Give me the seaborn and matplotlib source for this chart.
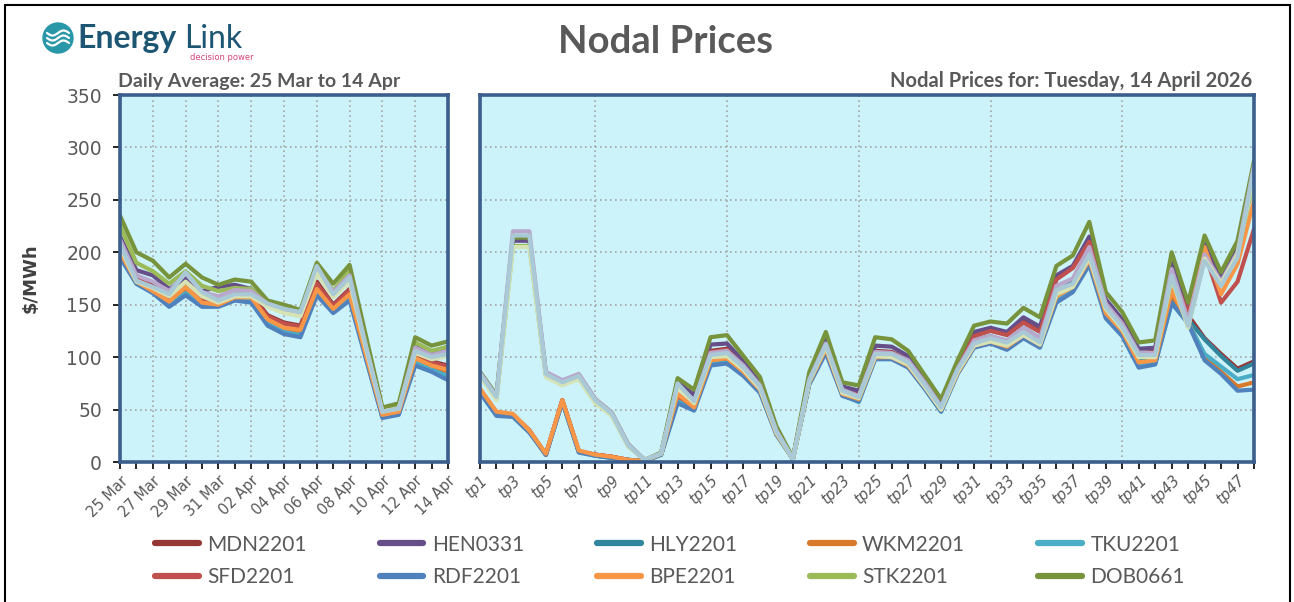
import numpy as np
import pandas as pd
import matplotlib
matplotlib.use("Agg")
import matplotlib.pyplot as plt
import seaborn as sns
from matplotlib.patches import Circle, Rectangle
from matplotlib.lines import Line2D

# ---------------- data ----------------
days = ["25 Mar", "26 Mar", "27 Mar", "28 Mar", "29 Mar", "30 Mar", "31 Mar",
        "01 Apr", "02 Apr", "03 Apr", "04 Apr", "05 Apr", "06 Apr", "07 Apr",
        "08 Apr", "09 Apr", "10 Apr", "11 Apr", "12 Apr", "13 Apr", "14 Apr"]
periods = ["tp%d" % i for i in range(1, 49)]

nodes = ["MDN2201", "HEN0331", "HLY2201", "WKM2201", "TKU2201",
         "SFD2201", "RDF2201", "BPE2201", "STK2201", "DOB0661",
         "Series11", "Series12", "Series13"]
legend_nodes = nodes[:10]

colors = ["#953735", "#664E88", "#31859C", "#D97A2B", "#4BACC6",
          "#C0504D", "#4F81BD", "#F79646", "#9BBB59", "#77933C",
          "#B9A7CC", "#D5E3B5", "#A8C9D5"]

# daily averages, 25 Mar .. 14 Apr
daily_MDN = [205, 178, 168, 158, 170, 156, 152, 160, 160, 140, 133, 130, 172, 150, 165, 105, 46, 49, 104, 96, 92]
daily_HEN = [215, 183, 178, 165, 175, 163, 167, 169, 165, 150, 146, 141, 182, 162, 178, 113, 49, 53, 112, 104, 110]
daily_HLY = [198, 171, 163, 151, 162, 150, 150, 155, 155, 133, 125, 122, 162, 144, 158, 100, 44, 47, 96, 89, 84]
daily_WKM = [200, 171, 162, 152, 165, 151, 150, 156, 156, 135, 127, 124, 164, 145, 159, 101, 45, 48, 97, 90, 86]
daily_TKU = [197, 170, 162, 150, 161, 150, 149, 155, 154, 132, 124, 121, 161, 143, 157, 99, 43, 46, 95, 88, 82]
daily_SFD = [203, 176, 166, 156, 168, 155, 151, 159, 159, 139, 132, 129, 170, 149, 164, 104, 46, 49, 103, 95, 91]
daily_RDF = [195, 170, 161, 148, 159, 148, 148, 154, 152, 130, 122, 119, 159, 142, 154, 98, 42, 45, 92, 86, 78]
daily_BPE = [200, 172, 163, 153, 167, 152, 150, 157, 157, 136, 128, 126, 165, 146, 160, 102, 45, 48, 99, 92, 88]
daily_STK = [225, 190, 182, 170, 182, 168, 163, 166, 165, 152, 147, 141, 186, 163, 183, 116, 50, 54, 114, 106, 110]
daily_DOB = [235, 200, 192, 176, 189, 176, 169, 174, 172, 154, 150, 145, 190, 170, 188, 120, 52, 56, 119, 111, 115]
daily_S11 = [212, 178, 172, 163, 180, 162, 158, 164, 163, 151, 146, 142, 186, 162, 178, 110, 48, 51, 109, 102, 106]
daily_S12 = [205, 172, 166, 158, 172, 158, 152, 158, 158, 148, 142, 139, 180, 157, 172, 108, 48, 51, 104, 98, 101]
daily_S13 = [208, 173, 167, 160, 181, 162, 154, 160, 160, 151, 146, 143, 187, 160, 176, 110, 48, 51, 106, 100, 103]

# trading periods for 14 April 2026
tp_MDN = [69, 47, 45, 30, 7, 59, 10, 7, 5, 2, 1, 8,
          63, 52, 106, 108, 92, 73, 29, 3, 79, 113, 69, 64,
          106, 105, 97, 76, 54, 90, 121, 126, 122, 134, 125, 175,
          186, 212, 152, 134, 104, 105, 180, 140, 118, 103, 89, 96]
tp_HEN = [85, 63, 211, 211, 84, 76, 82, 59, 46, 16, 2, 8,
          76, 64, 112, 113, 96, 77, 31, 3, 82, 118, 72, 68,
          111, 110, 101, 79, 56, 93, 124, 128, 124, 138, 129, 178,
          187, 215, 155, 136, 108, 109, 190, 143, 208, 175, 205, 284]
tp_HLY = [68, 46, 45, 29, 7, 58, 10, 6, 4, 2, 1, 7,
          60, 51, 95, 97, 85, 68, 27, 3, 76, 108, 66, 60,
          103, 102, 94, 73, 51, 88, 116, 120, 115, 128, 118, 162,
          172, 200, 145, 128, 96, 98, 158, 136, 117, 101, 87, 94]
tp_WKM = [69, 47, 45, 30, 7, 58, 10, 7, 5, 2, 1, 7,
          62, 51, 96, 98, 85, 68, 27, 3, 76, 107, 65, 60,
          101, 100, 92, 72, 50, 86, 112, 116, 111, 122, 112, 158,
          167, 193, 141, 124, 93, 96, 160, 134, 101, 86, 72, 76]
tp_TKU = [68, 46, 44, 29, 7, 58, 10, 6, 4, 2, 1, 7,
          58, 50, 93, 95, 83, 67, 26, 3, 75, 105, 64, 57,
          99, 99, 91, 70, 48, 84, 110, 114, 108, 119, 110, 154,
          164, 189, 138, 122, 91, 94, 151, 133, 103, 91, 79, 83]
tp_SFD = [69, 47, 45, 30, 7, 59, 10, 7, 5, 2, 1, 8,
          64, 52, 105, 107, 91, 72, 28, 3, 78, 112, 68, 63,
          105, 104, 96, 75, 53, 89, 120, 125, 121, 133, 124, 174,
          185, 210, 150, 132, 103, 104, 178, 142, 200, 152, 172, 222]
tp_RDF = [66, 44, 43, 28, 7, 57, 9, 6, 4, 2, 1, 7,
          56, 49, 92, 94, 82, 66, 26, 3, 74, 104, 63, 58,
          98, 98, 90, 70, 48, 84, 109, 113, 107, 118, 109, 152,
          162, 188, 137, 120, 90, 93, 152, 132, 97, 84, 68, 69]
tp_BPE = [70, 48, 46, 30, 8, 59, 11, 7, 5, 2, 1, 8,
          65, 52, 97, 99, 86, 69, 27, 3, 76, 108, 65, 60,
          100, 100, 92, 72, 50, 85, 111, 115, 110, 121, 112, 158,
          167, 193, 142, 125, 95, 97, 164, 133, 205, 160, 189, 249]
tp_STK = [83, 60, 206, 206, 82, 74, 80, 57, 45, 15, 2, 8,
          73, 57, 100, 102, 89, 71, 29, 3, 77, 111, 67, 61,
          102, 101, 94, 73, 51, 87, 112, 116, 112, 122, 113, 160,
          168, 196, 146, 127, 100, 101, 175, 129, 195, 170, 200, 270]
tp_DOB = [86, 64, 214, 214, 85, 77, 83, 60, 47, 17, 2, 9,
          80, 69, 119, 121, 101, 81, 34, 4, 86, 124, 76, 73,
          119, 117, 106, 83, 60, 97, 130, 134, 132, 147, 138, 187,
          197, 229, 162, 143, 114, 116, 200, 152, 216, 181, 211, 287]
tp_S11 = [85, 63, 220, 220, 86, 78, 84, 60, 47, 17, 2, 8,
          74, 58, 104, 106, 92, 73, 30, 3, 79, 113, 69, 63,
          105, 104, 97, 76, 53, 89, 116, 120, 116, 128, 118, 168,
          175, 205, 151, 132, 104, 104, 184, 135, 198, 172, 200, 283]
tp_S12 = [82, 59, 205, 205, 81, 73, 79, 56, 44, 15, 2, 8,
          72, 56, 100, 101, 88, 70, 28, 3, 77, 110, 66, 61,
          101, 100, 93, 72, 50, 86, 111, 115, 111, 121, 112, 160,
          167, 195, 146, 127, 100, 100, 176, 128, 194, 170, 198, 275]
tp_S13 = [84, 62, 216, 216, 84, 76, 82, 59, 46, 16, 2, 8,
          75, 58, 102, 104, 90, 72, 29, 3, 78, 112, 68, 62,
          103, 103, 95, 74, 52, 88, 113, 118, 114, 124, 114, 164,
          170, 198, 148, 129, 102, 102, 178, 130, 192, 168, 195, 281]

y_ticks = [0, 50, 100, 150, 200, 250, 300, 350]

daily_series = [daily_MDN, daily_HEN, daily_HLY, daily_WKM, daily_TKU, daily_SFD,
                daily_RDF, daily_BPE, daily_STK, daily_DOB, daily_S11, daily_S12, daily_S13]
tp_series = [tp_MDN, tp_HEN, tp_HLY, tp_WKM, tp_TKU, tp_SFD,
             tp_RDF, tp_BPE, tp_STK, tp_DOB, tp_S11, tp_S12, tp_S13]

daily_df = pd.DataFrame([
    {"node": n, "x": i, "price": v}
    for n, vals in zip(nodes, daily_series) for i, v in enumerate(vals)])
tp_df = pd.DataFrame([
    {"node": n, "x": i + 1, "price": v}
    for n, vals in zip(nodes, tp_series) for i, v in enumerate(vals)])
palette = dict(zip(nodes, colors))

# ---------------- style ----------------
sns.set_theme(style="white")
plt.rcParams["font.family"] = ["DejaVu Sans"]
GRAY = "#595959"
FRAME = "#3B5E8C"
FACE = "#CCF2FA"
NARROW = ["Lato", "DejaVu Sans"]

W, H = 1294, 602
fig = plt.figure(figsize=(W / 100, H / 100), dpi=100)
fig.patch.set_facecolor("white")


def fx(px):
    return px / W


def fy(py):
    return 1 - py / H


ax1 = fig.add_axes([fx(120), fy(462), fx(448) - fx(120), fy(95) - fy(462)])
ax2 = fig.add_axes([fx(480), fy(462), fx(1254) - fx(480), fy(95) - fy(462)])

line_kw = dict(linewidth=3.0, solid_joinstyle="round", solid_capstyle="round")
sns.lineplot(data=daily_df, x="x", y="price", hue="node", hue_order=nodes,
             palette=palette, ax=ax1, legend=False, sort=False, **line_kw)
sns.lineplot(data=tp_df, x="x", y="price", hue="node", hue_order=nodes,
             palette=palette, ax=ax2, legend=False, sort=False, **line_kw)

grid_kw = dict(color="#A6A6A6", linewidth=1.2, linestyle=(0, (1, 2)), zorder=0.5)
for ax in (ax1, ax2):
    ax.set_facecolor(FACE)
    ax.set_ylim(0, 350)
    ax.set_xlabel("")
    ax.set_ylabel("")
    for s in ax.spines.values():
        s.set_color(FRAME)
        s.set_linewidth(2.6)
        s.set_zorder(5)
    for yv in y_ticks[1:-1]:
        ax.axhline(yv, **grid_kw)

# left panel
ax1.set_xlim(0, len(days) - 1)
ax1.set_xticks(range(len(days)))
ax1.set_xticklabels([d if i % 2 == 0 else "" for i, d in enumerate(days)],
                    rotation=45, ha="right", rotation_mode="anchor",
                    fontsize=10.5, color=GRAY)
for i in range(2, len(days) - 1, 2):
    ax1.axvline(i, **grid_kw)
ax1.axvline(0, color="#C0504D", linewidth=1.0, linestyle=(0, (1, 2)), zorder=1)
ax1.set_yticks(y_ticks)
ax1.set_yticklabels([str(v) for v in y_ticks], fontsize=13.5, color=GRAY)
ax1.tick_params(axis="both", which="both", direction="out", length=5, width=1.2,
                color="black", left=True, bottom=True, pad=3)
ax1.tick_params(axis="y", pad=8)

# right panel
ax2.set_xlim(1, len(periods))
ax2.set_xticks(range(1, len(periods) + 1))
ax2.set_xticklabels([p if i % 2 == 0 else "" for i, p in enumerate(periods)],
                    rotation=45, ha="right", rotation_mode="anchor",
                    fontsize=10.5, color=GRAY, style="italic")
for t in (8, 16, 24, 32, 40):
    ax2.axvline(t, **grid_kw)
ax2.set_yticks(y_ticks)
ax2.set_yticklabels([])
ax2.tick_params(axis="y", left=False, length=0)
ax2.tick_params(axis="x", direction="out", length=5, width=1.2, color="black",
                bottom=True, pad=3)

# ---------------- texts ----------------
fig.text(fx(666), fy(42), "Nodal Prices", ha="center", va="center", fontsize=27.5,
         weight="bold", color=GRAY, family=NARROW)
fig.text(fx(118), fy(81), "Daily Average: 25 Mar to 14 Apr", ha="left", va="center",
         fontsize=14, weight="bold", color=GRAY, family=NARROW)
fig.text(fx(1252), fy(81), "Nodal Prices for: Tuesday, 14 April 2026", ha="right",
         va="center", fontsize=14.5, weight="bold", color=GRAY, family=NARROW)
fig.text(fx(31), fy(278), r"\$/MWh", rotation=90, ha="center", va="center",
         fontsize=13, weight="bold", color="#404040")

# legend (row-wise order like the original)
order = [0, 5, 1, 6, 2, 7, 3, 8, 4, 9]
handles = [Line2D([0], [0], color=colors[k], linewidth=4.5) for k in order]
labels = [legend_nodes[k] for k in order]
fig.legend(handles, labels, ncol=5, loc="center", bbox_to_anchor=(fx(670), fy(561)),
           frameon=False, handlelength=2.1, handletextpad=0.4,
           columnspacing=3.5, labelspacing=0.6, labelcolor=GRAY,
           prop={"family": NARROW, "size": 15})

# outer border
fig.add_artist(Rectangle((fx(5), -0.05), fx(1290) - fx(5), fy(5) + 0.05,
                         transform=fig.transFigure, fill=False,
                         edgecolor="black", linewidth=1.5))

# logo
lax = fig.add_axes([fx(35), fy(65), fx(260) - fx(35), fy(12) - fy(65)])
lax.set_xlim(35, 260)
lax.set_ylim(65, 12)
lax.axis("off")
lax.add_patch(Circle((58, 38), 15, color="#2A97A9"))
xx = np.linspace(47, 69, 30)
for off in (-5, 0, 5):
    lax.plot(xx, 38 + off + 2.5 * np.sin((xx - 47) / 22 * 2 * np.pi),
             color="white", linewidth=1.6)
lax.text(77, 48, "Energy", fontsize=23, weight="bold", color="#1D5673",
         family=["Lato", "DejaVu Sans"], va="baseline", ha="left")
lax.text(184, 48, "Link", fontsize=23, color="#1D5673",
         family=["Lato", "DejaVu Sans"], va="baseline", ha="left")
lax.text(190, 57, "decision power", fontsize=6, color="#D6457C",
         va="center", ha="left")

fig.savefig("out.png", dpi=100)
